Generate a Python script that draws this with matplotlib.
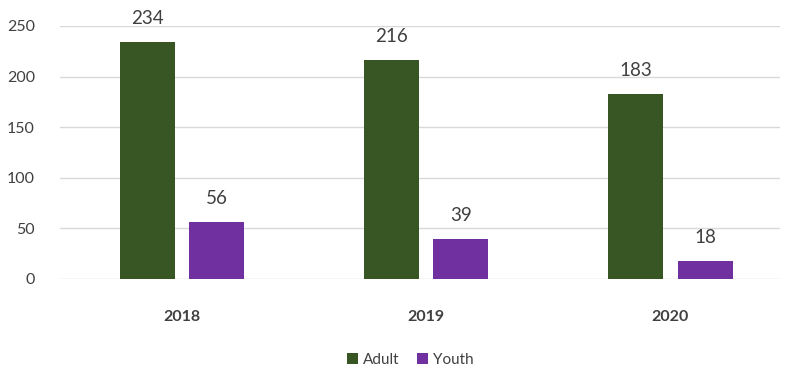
import numpy as np
import matplotlib
matplotlib.use("Agg")
import matplotlib.pyplot as plt

# ── Data ──────────────────────────────────────────────────────────────────────
years = ["2018", "2019", "2020"]
adult = [234, 216, 183]
youth = [56, 39, 18]
y_ticks = [0, 50, 100, 150, 200, 250]

plt.rcParams["font.family"] = ["Lato", "DejaVu Sans"]

GREEN = "#375623"
PURPLE = "#7030A0"
TEXT = "#404040"

fig = plt.figure(figsize=(7.89, 3.70), dpi=100)
ax = fig.add_axes([0.076, 0.246, 0.913, 0.684])

x = np.arange(len(years))
w = 0.225
off = 0.142
b1 = ax.bar(x - off, adult, w, color=GREEN, label="Adult", zorder=3)
b2 = ax.bar(x + off, youth, w, color=PURPLE, label="Youth", zorder=3)

for bars in (b1, b2):
    for r in bars:
        ax.text(r.get_x() + r.get_width() / 2, r.get_height() + 15,
                f"{int(r.get_height())}", ha="center", va="bottom",
                fontsize=13.5, color=TEXT, clip_on=False)

ax.set_xlim(-0.5, 2.45)
ax.set_ylim(0, 250)
ax.set_yticks(y_ticks)
ax.set_xticks(x)
ax.set_xticklabels(years, fontweight="bold", fontsize=11.5, color=TEXT)
ax.tick_params(axis="y", labelsize=11.5, labelcolor=TEXT, length=0, pad=18)
ax.tick_params(axis="x", length=0, pad=22)
ax.yaxis.grid(True, color="#D9D9D9", lw=1, zorder=0)
for s in ax.spines.values():
    s.set_visible(False)

fig.legend(handles=[b1, b2], loc="center", bbox_to_anchor=(0.52, 0.028),
           ncol=2, frameon=False, fontsize=11, handlelength=0.7,
           handleheight=0.7, handletextpad=0.3, columnspacing=1.2,
           labelcolor=TEXT)

fig.savefig("out.png", dpi=100)
